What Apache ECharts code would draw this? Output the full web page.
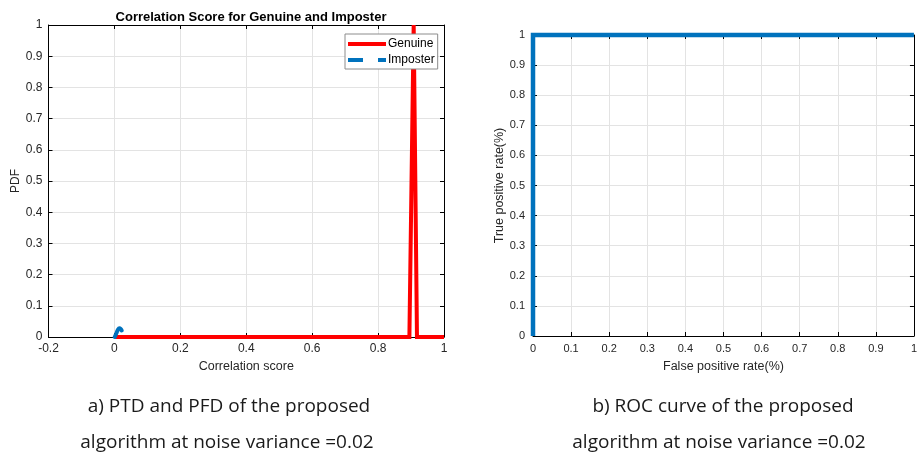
<!DOCTYPE html>
<html>
<head>
<meta charset="utf-8">
<script src="https://cdn.jsdelivr.net/npm/echarts@6/dist/echarts.min.js"></script>
<style>
  html, body { margin: 0; padding: 0; background: #fff; }
  #chart { width: 920px; height: 454px; }
</style>
</head>
<body>
<div id="chart"></div>
<script>
// Correlation-score distributions (left panel)
const genuineX = [0.002, 0.895, 0.908, 0.918, 1.0];
const genuineY = [0, 0, 1.0, 0, 0];
const imposterX = [0.001, 0.006, 0.011, 0.015, 0.019, 0.022];
const imposterY = [0, 0.012, 0.024, 0.028, 0.026, 0.021];

// ROC curve (right panel)
const rocFpr = [0, 0, 1];
const rocTpr = [0, 1, 1];

// Tick settings
const leftXTicks = { min: -0.2, max: 1, interval: 0.2 };
const unitTicks = { min: 0, max: 1, interval: 0.1 };

const pairs = (xs, ys) => xs.map((x, i) => [x, ys[i]]);

const sans = 'Liberation Sans, Arial, sans-serif';
const leftTick = { fontFamily: sans, fontSize: 12, color: '#262626' };
const rightTick = { fontFamily: sans, fontSize: 11, color: '#262626' };
const nameFont = { fontFamily: sans, fontSize: 12.5, color: '#262626' };
const captionFont = { fontFamily: 'Open Sans, sans-serif', fontSize: 19, fontWeight: 'normal', color: '#1a1a1a' };
const gridLine = { show: true, lineStyle: { color: '#e3e3e3', width: 1 } };
const axisLine = { show: true, onZero: false, lineStyle: { color: '#000', width: 1 } };
const tickIn = { show: true, inside: true, length: 4, lineStyle: { color: '#000' } };

function boxAxis(gridIndex, pos, range) {
  return Object.assign({
    type: 'value', gridIndex, position: pos,
    axisLine, axisTick: tickIn, axisLabel: { show: false }, splitLine: { show: false }
  }, range);
}

const chart = echarts.init(document.getElementById('chart'), null, { renderer: 'canvas' });

chart.setOption({
  animation: false,
  backgroundColor: '#fff',
  title: [
    { text: 'Correlation Score for Genuine and Imposter', left: 246, top: 6, textAlign: 'center',
      textStyle: { fontFamily: sans, fontSize: 13, fontWeight: 'bold', color: '#000' } },
    { text: 'a) PTD and PFD of the proposed', left: 224, top: 392, textAlign: 'center', textStyle: captionFont },
    { text: 'algorithm at noise variance =0.02', left: 222, top: 428, textAlign: 'center', textStyle: captionFont },
    { text: 'b) ROC curve of the proposed', left: 718, top: 392, textAlign: 'center', textStyle: captionFont },
    { text: 'algorithm at noise variance =0.02', left: 714, top: 428, textAlign: 'center', textStyle: captionFont }
  ],
  legend: {
    left: 345, top: 34, orient: 'vertical',
    backgroundColor: '#fff', borderColor: '#8c8c8c', borderWidth: 1, borderRadius: 0,
    padding: [4, 3, 3, 3], itemGap: 4, itemWidth: 38, itemHeight: 8,
    textStyle: { fontFamily: sans, fontSize: 12, color: '#000', padding: [0, 0, 0, -3] },
    data: [
      { name: 'Genuine', icon: 'path://M0,0 L38,0 L38,4 L0,4 Z' },
      { name: 'Imposter', icon: 'path://M0,0 L15,0 L15,4 L0,4 Z M30,0 L38,0 L38,4 L30,4 Z' }
    ]
  },
  grid: [
    { left: 48.5, right: 476, top: 25, bottom: 117, show: false },
    { left: 533, right: 5, top: 35, bottom: 118, show: false }
  ],
  xAxis: [
    Object.assign({ type: 'value', gridIndex: 0, position: 'bottom',
      name: 'Correlation score', nameLocation: 'middle', nameGap: 22,
      nameTextStyle: nameFont,
      axisLine, axisTick: tickIn,
      axisLabel: Object.assign({ margin: 6 }, leftTick), splitLine: gridLine }, leftXTicks),
    boxAxis(0, 'top', leftXTicks),
    Object.assign({ type: 'value', gridIndex: 1, position: 'bottom',
      name: 'False positive rate(%)', nameLocation: 'middle', nameGap: 24,
      nameTextStyle: nameFont,
      axisLine, axisTick: tickIn,
      axisLabel: Object.assign({ margin: 7 }, rightTick), splitLine: gridLine }, unitTicks),
    boxAxis(1, 'top', unitTicks)
  ],
  yAxis: [
    Object.assign({ type: 'value', gridIndex: 0, position: 'left',
      name: 'PDF', nameLocation: 'middle', nameGap: 22, nameRotate: 90,
      nameTextStyle: Object.assign({}, nameFont, { fontSize: 12 }),
      axisLine, axisTick: tickIn,
      axisLabel: Object.assign({ margin: 6 }, leftTick), splitLine: gridLine }, unitTicks),
    boxAxis(0, 'right', unitTicks),
    Object.assign({ type: 'value', gridIndex: 1, position: 'left',
      name: 'True positive rate(%)', nameLocation: 'middle', nameGap: 27, nameRotate: 90,
      nameTextStyle: nameFont,
      axisLine, axisTick: tickIn,
      axisLabel: Object.assign({ margin: 8 }, rightTick), splitLine: gridLine }, unitTicks),
    boxAxis(1, 'right', unitTicks)
  ],
  series: [
    { name: 'Genuine', type: 'line', xAxisIndex: 0, yAxisIndex: 0, data: pairs(genuineX, genuineY),
      showSymbol: false, symbol: 'none', color: '#ff0000', clip: true,
      lineStyle: { color: '#ff0000', width: 4, join: 'miter' }, z: 3 },
    { name: 'Imposter', type: 'line', xAxisIndex: 0, yAxisIndex: 0, data: pairs(imposterX, imposterY),
      showSymbol: false, symbol: 'none', color: '#0072bd', clip: true, smooth: true,
      lineStyle: { color: '#0072bd', width: 4, type: [14, 4], cap: 'round' }, z: 4 },
    { name: 'ROC', type: 'line', xAxisIndex: 2, yAxisIndex: 2, data: pairs(rocFpr, rocTpr),
      showSymbol: false, symbol: 'none', color: '#0072bd', clip: false,
      lineStyle: { color: '#0072bd', width: 4.5, join: 'miter' }, z: 3 }
  ]
});
</script>
</body>
</html>
